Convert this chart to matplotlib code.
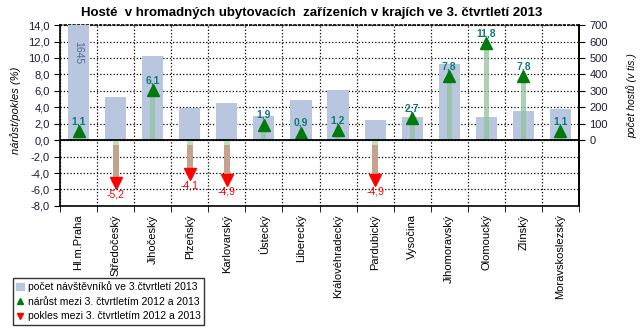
import numpy as np
import matplotlib.pyplot as plt
from matplotlib.lines import Line2D
from matplotlib.patches import Patch

plt.rcParams['font.family'] = ['Liberation Sans', 'DejaVu Sans']

# data
regions = ["Hl.m.Praha", "Středočeský", "Jihočeský", "Plzeňský", "Karlovarský",
           "Ústecký", "Liberecký", "Královéhradecký", "Pardubický", "Vysočina",
           "Jihomoravský", "Olomoucký", "Zlínský", "Moravskoslezský"]
guests = [1645, 264, 513, 197, 227, 146, 243, 304, 122, 140, 464, 140, 176, 189]  # tis.
change = [1.1, -5.2, 6.1, -4.1, -4.9, 1.9, 0.9, 1.2, -4.9, 2.7, 7.8, 11.8, 7.8, 1.1]  # %

title = "Hosté  v hromadných ubytovacích  zařízeních v krajích ve 3. čtvrtletí 2013"

fig = plt.figure(figsize=(6.41, 3.30), dpi=100)
rect = [0.0936, 0.376, 0.8097, 0.548]
ax = fig.add_axes(rect)          # left axis + grid (bottom layer)
ax2 = ax.twinx()                 # guests bars, right axis
ax3 = fig.add_axes(rect, sharex=ax, sharey=ax)  # arrows on top

ax.set_zorder(0)
ax2.set_zorder(1)
ax3.set_zorder(2)
ax2.patch.set_visible(False)
ax3.patch.set_visible(False)
ax3.axis("off")

x = np.arange(len(regions))
chg = np.array(change)

# guests bars on right axis
ax2.bar(x, guests, width=0.57, color="#b8c7df")
ax2.set_ylim(-400, 700)
ax2.set_yticks(np.arange(0, 701, 100))
ax2.set_yticklabels([str(v) for v in range(0, 701, 100)])
ax2.text(x[0], 530, f"{guests[0]}", rotation=270, ha="center", va="center",
         color="#4f6a9a", fontsize=7.5)

# arrows: shaft + triangle
pos = chg > 0
neg = ~pos
ax3.bar(x[pos], chg[pos], width=0.14, color="#8fc49a", alpha=0.75, zorder=3)
ax3.bar(x[neg], chg[neg], width=0.16, color="#c4a38e", zorder=3)
ax3.bar(x[neg], np.full(neg.sum(), -0.6), width=0.16, color="#bfe0bf", zorder=3)
ax3.plot(x[pos], chg[pos], linestyle="none", marker="^", markersize=8.5,
         color="#007a0a", zorder=4)
ax3.plot(x[neg], chg[neg], linestyle="none", marker="v", markersize=8.5,
         color="#ff0000", zorder=4)
ax3.axhline(0, color="black", linewidth=1.3, zorder=6)

for xi, v in zip(x, chg):
    s = f"{v:.1f}".replace(".", ",")
    if v > 0:
        ax3.text(xi, v + 1.2, s, ha="center", va="center", fontsize=7.5,
                 color="#0f7a78", fontweight="bold", zorder=5)
    else:
        ax3.text(xi, v - 1.4, s, ha="center", va="center", fontsize=7.5,
                 color="#ff0000", zorder=5)

ax.set_xlim(-0.5, len(regions) - 0.5)
ax.set_ylim(-8, 14)
yt = np.arange(-8, 14.1, 2)
ax.set_yticks(yt)
ax.set_yticklabels([f"{v:.1f}".replace(".", ",") for v in yt])

# gridlines between categories
ax.set_xticks(x)
ax.set_xticklabels(regions, rotation=90, fontsize=8)
ax.tick_params(axis="x", length=0, pad=6)
ax.set_xticks(np.arange(-0.5, len(regions), 1), minor=True)
ax.tick_params(axis="x", which="minor", length=4)
ax.grid(True, which="minor", axis="x", linestyle=":", color="black", linewidth=0.9)
ax.grid(True, which="major", axis="y", linestyle=":", color="black", linewidth=0.9)

for a in (ax, ax2):
    a.tick_params(axis="y", labelsize=8, length=4, labelcolor="#1a1a40")
    for sp in a.spines.values():
        sp.set_linewidth(1.2)
ax.spines["top"].set_linestyle(":")
ax2.spines["top"].set_visible(False)
ax2.spines["left"].set_visible(False)
ax2.spines["bottom"].set_visible(False)

ax.set_ylabel("nárůst/pokles (%)", fontsize=8, style="italic")
ax2.set_ylabel("počet hostů (v tis.)", fontsize=7.5, style="italic")
ax.yaxis.set_label_coords(-0.075, 0.53)
ax2.yaxis.set_label_coords(1.092, 0.61)

fig.text(0.487, 0.962, title, ha="center", va="center", fontsize=9.5, fontweight="bold")

handles = [
    Patch(color="#b8c7df"),
    Line2D([], [], linestyle="none", marker="^", color="#007a0a", markersize=4),
    Line2D([], [], linestyle="none", marker="v", color="#ff0000", markersize=4),
]
labels = ["počet návštěvníků ve 3.čtvrtletí 2013",
          "nárůst mezi 3. čtvrtletím 2012 a 2013",
          "pokles mezi 3. čtvrtletím 2012 a 2013"]
fig.legend(handles, labels, loc="lower left", bbox_to_anchor=(0.02, 0.015),
           fontsize=7.5, frameon=True, fancybox=False, edgecolor="black",
           handlelength=0.7, handletextpad=0.4, borderpad=0.35, labelspacing=0.45,
           borderaxespad=0)

fig.savefig("out.png", dpi=100)
